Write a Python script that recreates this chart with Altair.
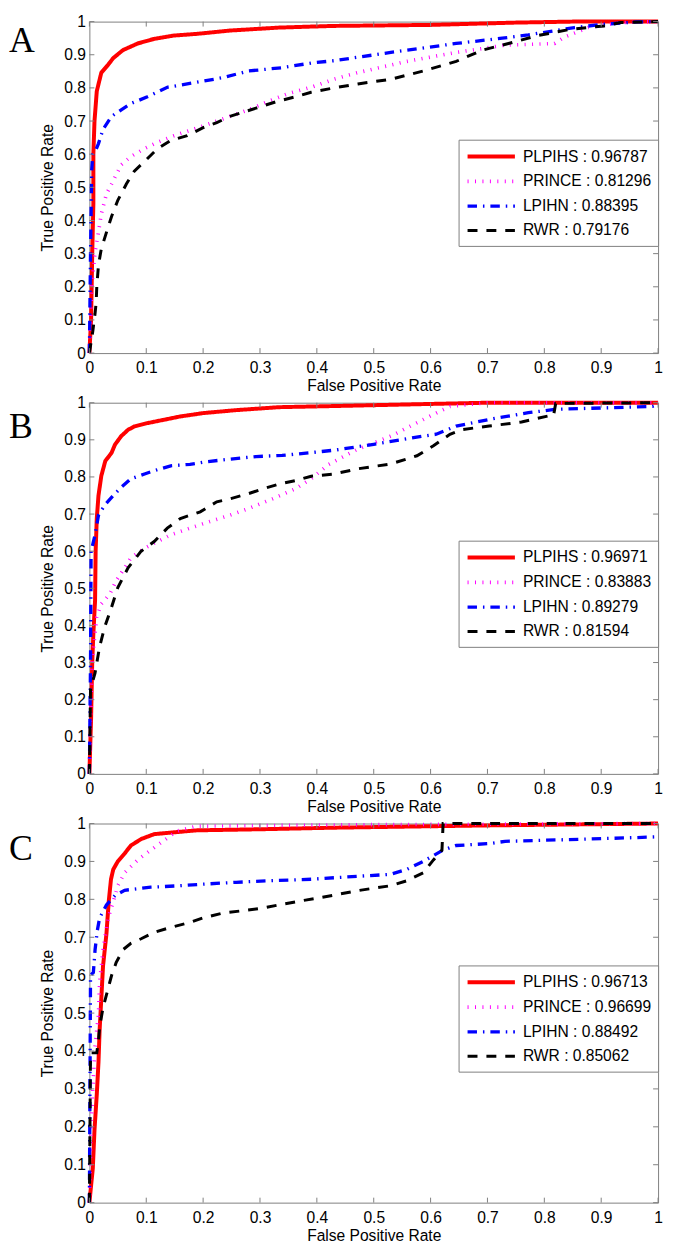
import altair as alt
import pandas as pd

SERIES = ["PLPIHS", "PRINCE", "LPIHN", "RWR"]
COLORS = ["#ff0000", "#ff00ff", "#0000ff", "#000000"]
DASHES = [[1, 0], [1, 6.5], [9.5, 6, 1.5, 6], [10, 9]]
WIDTHS = [4, 3, 4, 4]
TICKS = [0, 0.1, 0.2, 0.3, 0.4, 0.5, 0.6, 0.7, 0.8, 0.9, 1]
X_TITLE = "False Positive Rate"
Y_TITLE = "True Positive Rate"

AUC_A = ["0.96787", "0.81296", "0.88395", "0.79176"]
AUC_B = ["0.96971", "0.83883", "0.89279", "0.81594"]
AUC_C = ["0.96713", "0.96699", "0.88492", "0.85062"]

# ---------------- Panel A ----------------
A_PLPIHS_FPR = [0, 0.003, 0.005, 0.007, 0.007, 0.009, 0.013, 0.021, 0.033, 0.042, 0.059, 0.085, 0.114, 0.149, 0.189, 0.247, 0.334, 0.43, 0.6, 0.75, 0.85, 1]
A_PLPIHS_TPR = [0, 0.1, 0.3, 0.45, 0.6, 0.7, 0.79, 0.846, 0.87, 0.89, 0.914, 0.934, 0.948, 0.958, 0.963, 0.973, 0.982, 0.987, 0.99, 0.997, 1, 1]
A_PRINCE_FPR = [0, 0.002, 0.004, 0.01, 0.015, 0.021, 0.03, 0.042, 0.056, 0.073, 0.097, 0.12, 0.149, 0.2, 0.247, 0.28, 0.32, 0.35, 0.39, 0.43, 0.472, 0.558, 0.645, 0.731, 0.818, 0.835, 0.877, 0.934, 1]
A_PRINCE_TPR = [0, 0.1, 0.2, 0.305, 0.354, 0.42, 0.48, 0.52, 0.568, 0.593, 0.617, 0.636, 0.656, 0.685, 0.714, 0.734, 0.763, 0.783, 0.802, 0.826, 0.846, 0.88, 0.907, 0.929, 0.934, 0.953, 0.982, 0.997, 1]
A_LPIHN_FPR = [0, 0.002, 0.004, 0.006, 0.01, 0.016, 0.024, 0.039, 0.056, 0.073, 0.102, 0.137, 0.189, 0.235, 0.28, 0.339, 0.39, 0.43, 0.53, 0.645, 0.726, 0.772, 0.853, 0.905, 0.963, 1]
A_LPIHN_TPR = [0, 0.3, 0.55, 0.6, 0.607, 0.632, 0.675, 0.714, 0.734, 0.753, 0.773, 0.802, 0.817, 0.831, 0.851, 0.861, 0.875, 0.882, 0.907, 0.934, 0.95, 0.96, 0.982, 0.992, 0.999, 1]
A_RWR_FPR = [0, 0.002, 0.006, 0.01, 0.012, 0.013, 0.016, 0.021, 0.03, 0.039, 0.05, 0.065, 0.079, 0.097, 0.12, 0.143, 0.172, 0.2, 0.224, 0.247, 0.293, 0.328, 0.362, 0.39, 0.43, 0.472, 0.53, 0.587, 0.645, 0.691, 0.737, 0.789, 0.847, 0.905, 0.934, 1]
A_RWR_TPR = [0, 0.022, 0.066, 0.12, 0.154, 0.2, 0.266, 0.315, 0.364, 0.412, 0.461, 0.51, 0.549, 0.578, 0.617, 0.641, 0.656, 0.68, 0.695, 0.714, 0.739, 0.758, 0.773, 0.787, 0.8, 0.812, 0.826, 0.851, 0.88, 0.914, 0.934, 0.958, 0.977, 0.987, 0.997, 1]

# ---------------- Panel B ----------------
B_PLPIHS_FPR = [0, 0.003, 0.005, 0.007, 0.01, 0.011, 0.013, 0.016, 0.021, 0.028, 0.039, 0.045, 0.056, 0.068, 0.079, 0.102, 0.131, 0.16, 0.2, 0.258, 0.334, 0.43, 0.55, 0.7, 1]
B_PLPIHS_TPR = [0, 0.15, 0.3, 0.378, 0.467, 0.6, 0.688, 0.75, 0.803, 0.843, 0.865, 0.887, 0.91, 0.927, 0.936, 0.945, 0.954, 0.963, 0.972, 0.98, 0.988, 0.991, 0.995, 1, 1]
B_PRINCE_FPR = [0, 0.002, 0.005, 0.013, 0.021, 0.036, 0.047, 0.062, 0.073, 0.097, 0.12, 0.143, 0.177, 0.212, 0.247, 0.28, 0.322, 0.362, 0.39, 0.42, 0.472, 0.53, 0.576, 0.616, 0.634, 0.7, 1]
B_PRINCE_TPR = [0, 0.15, 0.307, 0.422, 0.458, 0.485, 0.52, 0.555, 0.582, 0.608, 0.626, 0.644, 0.662, 0.68, 0.697, 0.715, 0.741, 0.768, 0.795, 0.833, 0.875, 0.91, 0.946, 0.977, 0.99, 1, 1]
B_LPIHN_FPR = [0, 0.002, 0.003, 0.01, 0.016, 0.027, 0.042, 0.056, 0.073, 0.097, 0.114, 0.143, 0.177, 0.2, 0.247, 0.293, 0.339, 0.386, 0.43, 0.5, 0.587, 0.61, 0.645, 0.703, 0.772, 0.818, 0.99, 1]
B_LPIHN_TPR = [0, 0.3, 0.6, 0.644, 0.697, 0.724, 0.75, 0.772, 0.795, 0.808, 0.817, 0.83, 0.834, 0.84, 0.848, 0.855, 0.858, 0.865, 0.872, 0.888, 0.91, 0.915, 0.937, 0.955, 0.973, 0.982, 0.99, 0.995]
B_RWR_FPR = [0, 0.002, 0.01, 0.018, 0.027, 0.039, 0.05, 0.068, 0.091, 0.114, 0.137, 0.16, 0.195, 0.224, 0.247, 0.28, 0.305, 0.334, 0.362, 0.39, 0.43, 0.472, 0.53, 0.576, 0.605, 0.634, 0.657, 0.703, 0.76, 0.806, 0.816, 0.82, 1]
B_RWR_TPR = [0, 0.228, 0.272, 0.343, 0.396, 0.449, 0.502, 0.555, 0.6, 0.626, 0.662, 0.688, 0.706, 0.733, 0.741, 0.755, 0.768, 0.781, 0.79, 0.802, 0.808, 0.822, 0.835, 0.857, 0.884, 0.915, 0.928, 0.937, 0.948, 0.964, 0.964, 0.998, 1]

# ---------------- Panel C ----------------
C_PLPIHS_FPR = [0, 0.006, 0.009, 0.013, 0.016, 0.018, 0.021, 0.024, 0.03, 0.034, 0.038, 0.042, 0.05, 0.062, 0.073, 0.091, 0.114, 0.143, 0.189, 0.305, 0.43, 0.7, 1]
C_PLPIHS_TPR = [0, 0.09, 0.192, 0.285, 0.37, 0.455, 0.539, 0.624, 0.709, 0.794, 0.853, 0.879, 0.9, 0.921, 0.942, 0.959, 0.972, 0.976, 0.982, 0.985, 0.989, 0.995, 1]
C_PRINCE_FPR = [0, 0.003, 0.006, 0.01, 0.016, 0.018, 0.024, 0.033, 0.042, 0.05, 0.062, 0.085, 0.108, 0.131, 0.154, 0.189, 0.5, 1]
C_PRINCE_TPR = [0, 0.2, 0.3, 0.412, 0.497, 0.582, 0.667, 0.751, 0.794, 0.836, 0.87, 0.904, 0.93, 0.955, 0.98, 0.993, 0.997, 1]
C_LPIHN_FPR = [0, 0.001, 0.002, 0.007, 0.01, 0.014, 0.018, 0.03, 0.045, 0.062, 0.085, 0.108, 0.16, 0.2, 0.258, 0.316, 0.39, 0.43, 0.53, 0.558, 0.587, 0.622, 0.645, 0.703, 0.731, 0.876, 0.963, 1]
C_LPIHN_TPR = [0, 0.3, 0.6, 0.607, 0.667, 0.718, 0.751, 0.785, 0.81, 0.824, 0.828, 0.832, 0.836, 0.84, 0.845, 0.849, 0.853, 0.857, 0.866, 0.879, 0.9, 0.93, 0.942, 0.947, 0.953, 0.959, 0.963, 0.965]
C_RWR_FPR = [0, 0.002, 0.013, 0.016, 0.018, 0.024, 0.03, 0.039, 0.047, 0.059, 0.073, 0.091, 0.114, 0.143, 0.177, 0.2, 0.235, 0.27, 0.305, 0.339, 0.38, 0.43, 0.472, 0.53, 0.558, 0.587, 0.605, 0.62, 0.622, 1]
C_RWR_TPR = [0, 0.395, 0.395, 0.429, 0.463, 0.514, 0.548, 0.599, 0.633, 0.667, 0.684, 0.696, 0.713, 0.726, 0.739, 0.751, 0.764, 0.77, 0.777, 0.787, 0.798, 0.811, 0.823, 0.836, 0.849, 0.87, 0.904, 0.93, 1.0, 1]

PANELS = [
    ("A", AUC_A, [(A_PLPIHS_FPR, A_PLPIHS_TPR), (A_PRINCE_FPR, A_PRINCE_TPR), (A_LPIHN_FPR, A_LPIHN_TPR), (A_RWR_FPR, A_RWR_TPR)], 334, 3),
    ("B", AUC_B, [(B_PLPIHS_FPR, B_PLPIHS_TPR), (B_PRINCE_FPR, B_PRINCE_TPR), (B_LPIHN_FPR, B_LPIHN_TPR), (B_RWR_FPR, B_RWR_TPR)], 374, 8),
    ("C", AUC_C, [(C_PLPIHS_FPR, C_PLPIHS_TPR), (C_PRINCE_FPR, C_PRINCE_TPR), (C_LPIHN_FPR, C_LPIHN_TPR), (C_RWR_FPR, C_RWR_TPR)], 382, 9),
]

W = 573
FONT = "Liberation Sans"
FS = 15.7
FRAME = "#808080"
SYM = 15.9  # legend cell size; the stroke path drawn is 3x as long
TL = 5      # inward tick length
LETTER_X = -81


def make_panel(letter, aucs, curves, h, letter_y):
    labels = [f"{s} : {a}" for s, a in zip(SERIES, aucs)]
    rows = []
    for k, (xs, ys) in enumerate(curves):
        for i, (x, y) in enumerate(zip(xs, ys)):
            rows.append({"fpr": x, "tpr": y, "series": labels[k], "k": k, "i": i})
    df = pd.DataFrame(rows)
    sc = alt.Scale(domain=[0, 1], nice=False, zero=False)
    leg = alt.Legend(
        title=None, orient="none", legendX=W - 201, legendY=h / 2 - 48,
        symbolType="M-1,0L5,0", symbolSize=SYM * SYM, labelFont=FONT, labelFontSize=FS,
        labelColor="#000000", labelOffset=2 * SYM + 6, padding=7, rowPadding=7,
        strokeColor=FRAME, fillColor="#ffffff", labelLimit=0,
        symbolFillColor="transparent",
    )
    color = alt.Color("series:N", scale=alt.Scale(domain=labels, range=COLORS), legend=leg)
    dash = alt.StrokeDash("series:N", scale=alt.Scale(domain=labels, range=DASHES), legend=leg)
    width = alt.StrokeWidth("series:N", scale=alt.Scale(domain=labels, range=WIDTHS), legend=leg)

    xaxis = alt.Axis(orient="bottom", tickSize=0, values=TICKS, format=".1~f", labelFlush=False,
                     labelPadding=8, titlePadding=3, title=X_TITLE)
    yaxis = alt.Axis(orient="left", tickSize=0, values=TICKS, format=".1~f", labelFlush=False,
                     labelPadding=4, titlePadding=8, title=Y_TITLE)

    layers = []
    for k in range(4):
        base = alt.Chart(df).transform_filter(alt.datum.k == k).mark_line(strokeCap="butt")
        if k == 0:
            x = alt.X("fpr:Q", scale=sc, axis=xaxis)
            y = alt.Y("tpr:Q", scale=sc, axis=yaxis)
        else:
            x = alt.X("fpr:Q", scale=sc, axis=None)
            y = alt.Y("tpr:Q", scale=sc, axis=None)
        layers.append(base.encode(x=x, y=y, color=color, strokeDash=dash, strokeWidth=width,
                                  order=alt.Order("i:Q")))

    tick_df = pd.DataFrame({"t": TICKS})
    tick_x = alt.X("t:Q", scale=sc, axis=None)
    tick_y = alt.Y("t:Q", scale=sc, axis=None)
    rule = alt.Chart(tick_df).mark_rule(color=FRAME, strokeWidth=1)
    tick_layers = [
        rule.encode(x=tick_x, y=alt.value(h), y2=alt.value(h - TL)),
        rule.encode(x=tick_x, y=alt.value(0), y2=alt.value(TL)),
        rule.encode(y=tick_y, x=alt.value(0), x2=alt.value(TL)),
        rule.encode(y=tick_y, x=alt.value(W), x2=alt.value(W - TL)),
    ]

    letter_layer = alt.Chart(tick_df).transform_filter(alt.datum.t == 0).mark_text(
        text=letter, font="Liberation Serif", fontSize=36, align="left",
        baseline="top", color="#000000"
    ).encode(x=alt.value(LETTER_X), y=alt.value(letter_y))

    return alt.layer(*layers, *tick_layers, letter_layer).resolve_axis(
        x="independent", y="independent"
    ).properties(width=W, height=h)


charts = [make_panel(*p) for p in PANELS]

chart = alt.vconcat(*charts, spacing=0).resolve_scale(
    color="independent", strokeDash="independent", strokeWidth="independent"
).resolve_legend(
    color="independent", strokeDash="independent", strokeWidth="independent"
).properties(padding=0).configure_view(
    stroke=FRAME, strokeWidth=1
).configure_axis(
    domain=False, grid=False,
    labelFont=FONT, labelFontSize=FS, labelColor="#000000",
    titleFont=FONT, titleFontSize=FS, titleFontWeight="normal", titleColor="#000000",
)

chart.save("out.html", embed_options={"renderer": "svg", "actions": False})
